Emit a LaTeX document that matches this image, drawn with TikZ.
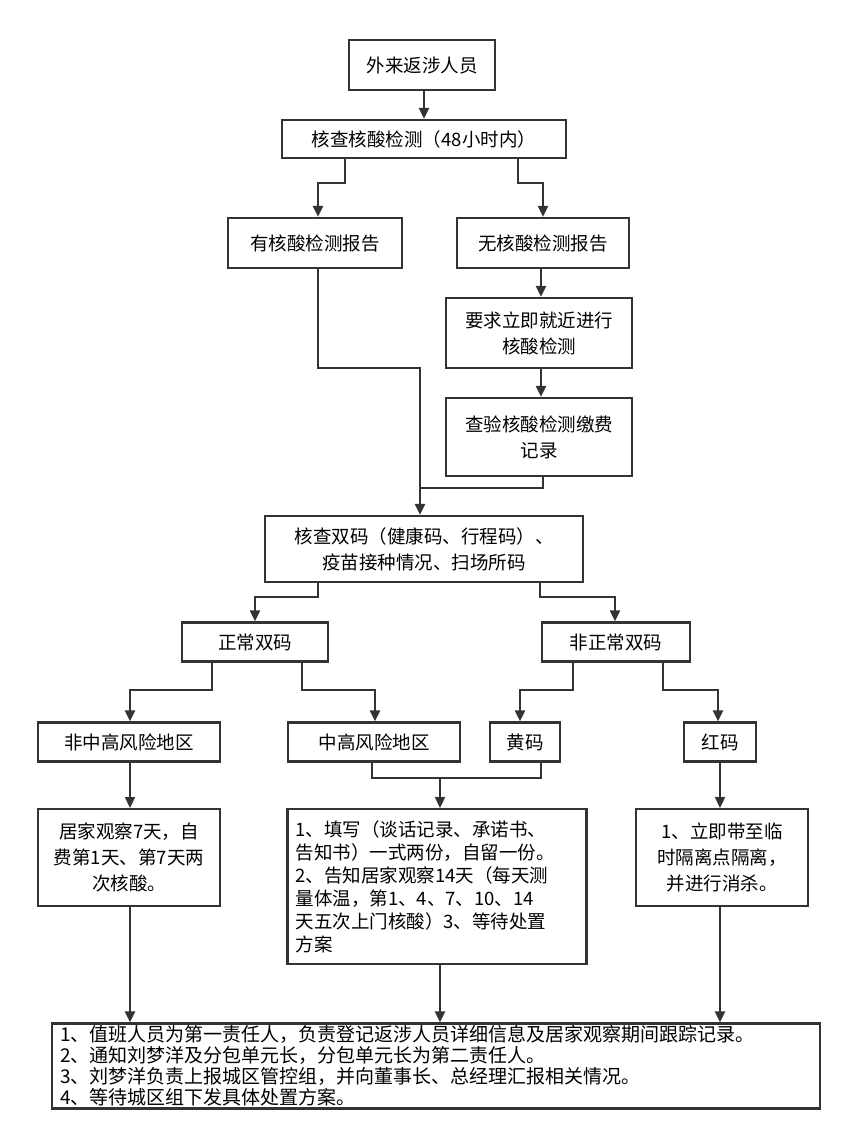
\documentclass[tikz,border=0pt]{standalone}
\usepackage{fontspec}
\setmainfont{Noto Sans CJK SC}
\usetikzlibrary{arrows.meta}
\definecolor{linegray}{HTML}{333333}
\begin{document}
\begin{tikzpicture}[x=1pt,y=-1pt,
        box/.style={draw=linegray,line width=2.2pt,inner sep=2pt,
            align=center,font=\fontsize{18.5}{26}\selectfont},
        flow/.style={draw=linegray,line width=2.2pt,-{Triangle[length=11pt,width=10pt]}},
        plain/.style={draw=linegray,line width=2.2pt}]
\useasboundingbox (0,0) rectangle (858,1146);

\node[box,minimum width=146pt,minimum height=50pt] (src) at (422,65) {外来返涉人员};
\node[box,minimum width=284pt,minimum height=38pt] (check) at (424,139) {核查核酸检测（48小时内）};
\node[box,minimum width=174pt,minimum height=50pt] (has) at (315,243) {有核酸检测报告};
\node[box,minimum width=172pt,minimum height=50pt] (none) at (543,243) {无核酸检测报告};
\node[box,minimum width=186pt,minimum height=70pt,text width=176pt] (test) at (539,333) {要求立即就近进行\\核酸检测};
\node[box,minimum width=186pt,minimum height=78pt,text width=176pt] (fee) at (539,437) {查验核酸检测缴费\\记录};
\node[box,minimum width=318pt,minimum height=66pt,text width=308pt] (codes) at (424,549) {核查双码（健康码、行程码）、\\疫苗接种情况、扫场所码};
\node[box,minimum width=146pt,minimum height=39pt] (normal) at (255,642) {正常双码};
\node[box,minimum width=148pt,minimum height=39pt] (abnormal) at (616,642) {非正常双码};
\node[box,minimum width=182pt,minimum height=39pt] (low) at (129,742) {非中高风险地区};
\node[box,minimum width=172pt,minimum height=39pt] (high) at (374,742) {中高风险地区};
\node[box,minimum width=70pt,minimum height=39pt] (yellow) at (525,742) {黄码};
\node[box,minimum width=72pt,minimum height=39pt] (red) at (720,742) {红码};
\node[box,anchor=north,minimum width=182pt,minimum height=97pt,text width=172pt] (home) at (129,808)
    {居家观察7天，自\\费第1天、第7天两\\次核酸。};
\node[box,anchor=north,minimum width=299pt,minimum height=155pt,text width=283pt,align=left,
      font=\fontsize{18.5}{23}\selectfont] (sign) at (437,808)
    {1、填写（谈话记录、承诺书、\\告知书）一式两份，自留一份。\\2、告知居家观察14天（每天测\\量体温，第1、4、7、10、14\\天五次上门核酸）3、等待处置\\方案};
\node[box,anchor=north,minimum width=172pt,minimum height=97pt,text width=162pt] (isolate) at (722,808)
    {1、立即带至临\\时隔离点隔离，\\并进行消杀。};
\node[box,minimum width=768pt,minimum height=85pt,text width=752pt,align=left,
      font=\fontsize{19}{21}\selectfont] (duty) at (436,1066)
    {1、值班人员为第一责任人，负责登记返涉人员详细信息及居家观察期间跟踪记录。\\
     2、通知刘梦洋及分包单元长，分包单元长为第二责任人。\\
     3、刘梦洋负责上报城区管控组，并向董事长、总经理汇报相关情况。\\
     4、等待城区组下发具体处置方案。};

\coordinate (merge1) at (420,488);
\coordinate (merge2) at (440,778);

\draw[flow] (src.south -| 424,0) -- (check.north -| 424,0);
\draw[flow] (check.south -| 345,0) |- (318,183) -- (has.north -| 318,0);
\draw[flow] (check.south -| 518,0) |- (543,183) -- (none.north -| 543,0);
\draw[flow] (none.south -| 541,0) -- (test.north -| 541,0);
\draw[flow] (test.south -| 541,0) -- (fee.north -| 541,0);
\draw[plain] (has.south -| 318,0) |- (420,368) -- (merge1);
\draw[plain] (fee.south -| 543,0) |- (merge1);
\draw[flow] (merge1) -- (codes.north -| merge1);
\draw[flow] (codes.south -| 318,0) |- (255,597) -- (normal.north);
\draw[flow] (codes.south -| 540,0) |- (615,597) -- (abnormal.north -| 615,0);
\draw[flow] (normal.south -| 212,0) |- (130,690) -- (low.north -| 130,0);
\draw[flow] (normal.south -| 302,0) |- (375,690) -- (high.north -| 375,0);
\draw[flow] (abnormal.south -| 573,0) |- (520,690) -- (yellow.north -| 520,0);
\draw[flow] (abnormal.south -| 663,0) |- (718,690) -- (red.north -| 718,0);
\draw[flow] (low.south -| 130,0) -- (home.north -| 130,0);
\draw[plain] (high.south -| 372,0) |- (merge2);
\draw[plain] (yellow.south -| 541,0) |- (merge2);
\draw[flow] (merge2) -- (sign.north -| merge2);
\draw[flow] (red.south -| 720,0) -- (isolate.north -| 720,0);
\draw[flow] (home.south -| 130,0) -- (duty.north -| 130,0);
\draw[flow] (sign.south -| 440,0) -- (duty.north -| 440,0);
\draw[flow] (isolate.south -| 720,0) -- (duty.north -| 720,0);
\end{tikzpicture}
\end{document}
